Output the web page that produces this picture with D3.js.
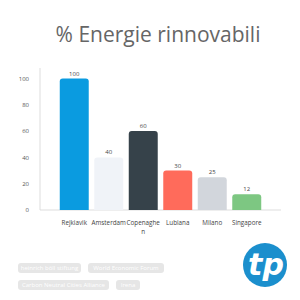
<!DOCTYPE html>
<html>
<head>
<meta charset="utf-8">
<script src="https://cdn.jsdelivr.net/npm/d3@7"></script>
<style>
  body { margin: 0; background: #fff; }
  svg { display: block; }
</style>
</head>
<body>
<div id="chart"></div>
<script>
// Chart data
const cities = ['Rejkiavik', 'Amsterdam', 'Copenaghen', 'Lubiana', 'Milano', 'Singapore'];
const renewables = [100, 40, 60, 30, 25, 12];
const barColors = ['#0a9be0', '#f0f3f8', '#36424a', '#ff6b5b', '#d2d6dc', '#7dc782'];
const yTicks = [0, 20, 40, 60, 80, 100];
const sources = ['heinrich böll stiftung', 'World Economic Forum', 'Carbon Neutral Cities Alliance', 'Irena'];

const width = 300, height = 300;

const svg = d3.select("#chart").append("svg")
    .attr("width", width)
    .attr("height", height);

// Title
svg.append("text")
    .attr("x", 158)
    .attr("y", 42)
    .attr("text-anchor", "middle")
    .style("font-family", "'Open Sans', sans-serif")
    .style("font-size", "21px")
    .style("fill", "#666")
    .text("% Energie rinnovabili");

const x = d3.scaleBand()
    .domain(cities)
    .range([57, 264])
    .paddingInner(0.16)
    .paddingOuter(0.08);

const y = d3.scaleLinear()
    .domain([0, 108])
    .range([210, 68]);

// Axis lines
svg.append("line")
    .attr("x1", 40).attr("x2", 40)
    .attr("y1", y(108)).attr("y2", y(0))
    .style("stroke", "#ddd");
svg.append("line")
    .attr("x1", 40).attr("x2", 281)
    .attr("y1", y(0)).attr("y2", y(0))
    .style("stroke", "#ddd");

// Y tick labels
svg.append("g")
    .selectAll("text")
    .data(yTicks)
    .enter().append("text")
    .attr("x", 29)
    .attr("y", d => y(d))
    .attr("dy", "0.35em")
    .attr("text-anchor", "end")
    .style("font-family", "'Open Sans', sans-serif")
    .style("font-size", "6px")
    .style("fill", "#555")
    .text(d => d);

// Bars with rounded top corners
function barPath(x0, w, yTop, yBase, r) {
    return `M${x0},${yBase} V${yTop + r} Q${x0},${yTop} ${x0 + r},${yTop} H${x0 + w - r} Q${x0 + w},${yTop} ${x0 + w},${yTop + r} V${yBase} Z`;
}

const data = cities.map((c, i) => ({ city: c, value: renewables[i], color: barColors[i] }));

svg.append("g")
    .selectAll("path")
    .data(data)
    .enter().append("path")
    .attr("d", d => barPath(x(d.city), x.bandwidth(), y(d.value), y(0), 3))
    .style("fill", d => d.color);

// Value labels
svg.append("g")
    .selectAll("text")
    .data(data)
    .enter().append("text")
    .attr("x", d => x(d.city) + x.bandwidth() / 2)
    .attr("y", d => y(d.value) - 3)
    .attr("text-anchor", "middle")
    .style("font-family", "'Open Sans', sans-serif")
    .style("font-size", "6px")
    .style("fill", "#444")
    .text(d => d.value);

// X labels (Copenaghen wraps)
const xLabels = svg.append("g")
    .selectAll("text")
    .data(data)
    .enter().append("text")
    .attr("x", d => x(d.city) + x.bandwidth() / 2)
    .attr("y", 225)
    .attr("text-anchor", "middle")
    .style("font-family", "'Open Sans', sans-serif")
    .style("font-size", "6.3px")
    .style("fill", "#444");

xLabels.each(function(d) {
    const t = d3.select(this);
    if (d.city === 'Copenaghen') {
        t.append("tspan").attr("x", x(d.city) + x.bandwidth() / 2).text("Copenaghe");
        t.append("tspan").attr("x", x(d.city) + x.bandwidth() / 2).attr("dy", 9).text("n");
    } else {
        t.text(d.city);
    }
});

// Source tags
const tagPos = [[18, 263, 63], [88, 263, 76], [18, 280, 91], [116, 280, 24]];
const tags = svg.append("g")
    .selectAll("g")
    .data(sources)
    .enter().append("g")
    .attr("transform", (d, i) => `translate(${tagPos[i][0]},${tagPos[i][1]})`);

tags.append("rect")
    .attr("width", (d, i) => tagPos[i][2])
    .attr("height", 10)
    .attr("rx", 3)
    .style("fill", "#e6e6e6");

tags.append("text")
    .attr("x", (d, i) => tagPos[i][2] / 2)
    .attr("y", 5)
    .attr("dy", "0.35em")
    .attr("text-anchor", "middle")
    .style("font-family", "'Open Sans', sans-serif")
    .style("font-size", "6px")
    .style("fill", "#fff")
    .text(d => d);

// Logo
const logo = svg.append("g").attr("transform", "translate(265,265)");
logo.append("circle").attr("r", 22).style("fill", "#1b8fcd");
logo.append("text")
    .attr("x", 1)
    .attr("y", 10)
    .attr("text-anchor", "middle")
    .style("font-family", "'DejaVu Sans', sans-serif")
    .style("font-weight", "bold")
    .style("font-style", "italic")
    .style("font-size", "30px")
    .style("fill", "#fff")
    .text("tp");
</script>
</body>
</html>
